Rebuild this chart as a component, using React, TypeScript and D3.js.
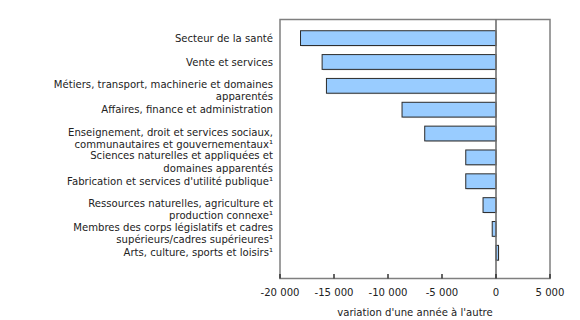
import React from "react";
import * as d3 from "d3";

const categories: string[][] = [
  ["Secteur de la santé"],
  ["Vente et services"],
  ["Métiers, transport, machinerie et domaines", "apparentés"],
  ["Affaires, finance et administration"],
  ["Enseignement, droit et services sociaux,", "communautaires et gouvernementaux¹"],
  ["Sciences naturelles et appliquées et", "domaines apparentés"],
  ["Fabrication et services d'utilité publique¹"],
  ["Ressources naturelles, agriculture et", "production connexe¹"],
  ["Membres des corps législatifs et cadres", "supérieurs/cadres supérieures¹"],
  ["Arts, culture, sports et loisirs¹"],
];
const values: number[] = [-18100, -16100, -15700, -8700, -6600, -2800, -2800, -1200, -350, 230];
const tickValues: number[] = [-20000, -15000, -10000, -5000, 0, 5000];
const tickLabels: string[] = ["-20 000", "-15 000", "-10 000", "-5 000", "0", "5 000"];
const axisTitle = "variation d'une année à l'autre";

export default function App() {
  const W = 580, H = 320;
  const left = 280, right = 550, top = 19.5, bottom = 278.5;
  const x = d3.scaleLinear().domain([-20000, 5000]).range([left, right]);
  const y = d3
    .scaleBand<number>()
    .domain(d3.range(categories.length))
    .range([top, bottom])
    .paddingInner(0.38)
    .paddingOuter(0.62)
    .align(0.38);
  const font = "'DejaVu Sans', Verdana, sans-serif";
  const fs = 10.1;
  return (
    <svg
      width={W}
      height={H}
      style={{ position: "absolute", left: 0, top: 0, background: "#fff" }}
      fontFamily={font}
    >
      <rect x={left} y={top} width={right - left} height={bottom - top} fill="none" stroke="#7f7f7f" strokeWidth={1.5} />
      {values.map((v, i) => {
        const x0 = x(Math.min(0, v));
        const w = Math.abs(x(v) - x(0));
        const by = y(i)!;
        const bh = y.bandwidth();
        return (
          <g key={i}>
            <rect x={x0 + 1} y={by + 1} width={w} height={bh} fill="#c8c8c8" opacity={0.6} />
            <rect x={x0} y={by} width={w} height={bh} fill="#99ccff" stroke="#2b2b2b" strokeWidth={1} />
          </g>
        );
      })}
      <line x1={x(0)} x2={x(0)} y1={top} y2={bottom} stroke="#6f6f6f" strokeWidth={1.6} />
      {tickValues.map((t, i) => (
        <g key={t}>
          <line x1={x(t)} x2={x(t)} y1={bottom - 4.5} y2={bottom} stroke="#333" strokeWidth={1.5} />
          <text x={x(t)} y={bottom + 17} textAnchor="middle" fontSize={fs} fill="#222">
            {tickLabels[i]}
          </text>
        </g>
      ))}
      <text x={(left + right) / 2} y={bottom + 37} textAnchor="middle" fontSize={fs} fill="#222">
        {axisTitle}
      </text>
      {categories.map((lines, i) => {
        const c = y(i)! + y.bandwidth() / 2;
        const y0 = lines.length === 1 ? c : c - 1.5;
        return (
          <text key={i} textAnchor="end" fontSize={fs} fill="#222">
            {lines.map((ln, j) => (
              <tspan key={j} x={left - 7} y={y0 + j * 12.2} dy="0.35em">
                {ln}
              </tspan>
            ))}
          </text>
        );
      })}
    </svg>
  );
}
